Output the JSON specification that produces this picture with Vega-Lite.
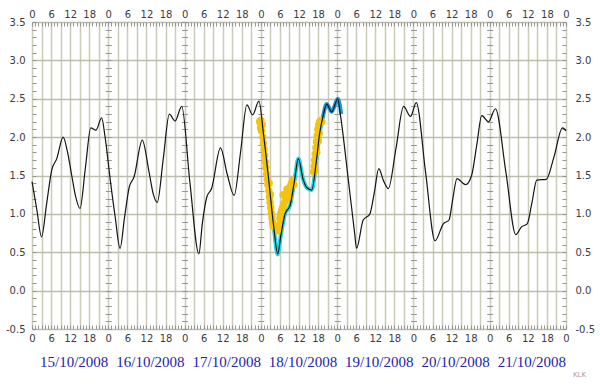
{
  "$schema": "https://vega.github.io/schema/vega-lite/v6.json",
  "width": 534,
  "height": 307,
  "autosize": {"type": "none"},
  "padding": {"left": 32, "top": 22, "right": 34, "bottom": 59},
  "background": "white",
  "title": {"text": "KLK", "orient": "bottom", "anchor": "end", "frame": "group", "fontSize": 7, "font": "DejaVu Sans", "fontWeight": "normal", "color": "#a0a0a0", "dx": 20, "offset": 2},
  "config": {
    "view": {"stroke": "#8c8c8c", "strokeWidth": 1},
    "axis": {"labelFont": "DejaVu Sans", "labelFontSize": 10, "labelColor": "#3c3c3c", "labelFlush": false, "labelOverlap": false, "labelBound": false, "domain": false, "grid": false, "tickColor": "#959595", "tickWidth": 1}
  },
  "datasets": {
    "model": [
      {"h": 0, "v": 1.42}, {"h": 1.5, "v": 1.06}, {"h": 3.0, "v": 0.70}, {"h": 4.6, "v": 1.13}, {"h": 6.2, "v": 1.57}, {"h": 7.8, "v": 1.72}, {"h": 9.8, "v": 2.00}, {"h": 11.2, "v": 1.8}, {"h": 12.5, "v": 1.5}, {"h": 13.6, "v": 1.25}, {"h": 15.1, "v": 1.07}, {"h": 16.8, "v": 1.6}, {"h": 18.5, "v": 2.12}, {"h": 20.1, "v": 2.09}, {"h": 21.9, "v": 2.25}, {"h": 23.0, "v": 2.0}, {"h": 24.6, "v": 1.45}, {"h": 26.2, "v": 0.95}, {"h": 27.7, "v": 0.55}, {"h": 29.1, "v": 0.95}, {"h": 30.6, "v": 1.35}, {"h": 32.1, "v": 1.48}, {"h": 34.7, "v": 1.96}, {"h": 36.8, "v": 1.55}, {"h": 38.2, "v": 1.25}, {"h": 39.4, "v": 1.15}, {"h": 41.3, "v": 1.72}, {"h": 43.2, "v": 2.30}, {"h": 45.0, "v": 2.21}, {"h": 47.1, "v": 2.40}, {"h": 49.7, "v": 1.4}, {"h": 52.5, "v": 0.48}, {"h": 53.6, "v": 0.88}, {"h": 55.0, "v": 1.22}, {"h": 56.5, "v": 1.33}, {"h": 59.3, "v": 1.86}, {"h": 61.4, "v": 1.52}, {"h": 63.6, "v": 1.24}, {"h": 65.6, "v": 1.8}, {"h": 67.6, "v": 2.42}, {"h": 69.4, "v": 2.29}, {"h": 71.4, "v": 2.47}, {"h": 72.8, "v": 2.05}, {"h": 74.4, "v": 1.47}, {"h": 76.0, "v": 0.85}, {"h": 77.3, "v": 0.48}, {"h": 78.3, "v": 0.72}, {"h": 79.6, "v": 1.0}, {"h": 81.2, "v": 1.11}, {"h": 82.5, "v": 1.41}, {"h": 83.8, "v": 1.72}, {"h": 85.3, "v": 1.45}, {"h": 86.5, "v": 1.34}, {"h": 88.0, "v": 1.31}, {"h": 89.5, "v": 1.70}, {"h": 90.5, "v": 2.05}, {"h": 91.6, "v": 2.28}, {"h": 92.7, "v": 2.43}, {"h": 94.3, "v": 2.33}, {"h": 96.2, "v": 2.50}, {"h": 97.0, "v": 2.3}, {"h": 99.5, "v": 1.45}, {"h": 101.5, "v": 0.75}, {"h": 102.1, "v": 0.55}, {"h": 104.2, "v": 0.92}, {"h": 106.3, "v": 1.0}, {"h": 107.7, "v": 1.28}, {"h": 109.1, "v": 1.59}, {"h": 110.6, "v": 1.43}, {"h": 112.1, "v": 1.33}, {"h": 114.5, "v": 1.85}, {"h": 116.9, "v": 2.40}, {"h": 119.1, "v": 2.27}, {"h": 120.9, "v": 2.45}, {"h": 123.8, "v": 1.55}, {"h": 126.8, "v": 0.65}, {"h": 129.4, "v": 0.87}, {"h": 131.2, "v": 0.92}, {"h": 132.4, "v": 1.2}, {"h": 133.7, "v": 1.46}, {"h": 136.4, "v": 1.38}, {"h": 138.3, "v": 1.5}, {"h": 139.9, "v": 1.89}, {"h": 141.5, "v": 2.28}, {"h": 143.6, "v": 2.2}, {"h": 145.8, "v": 2.37}, {"h": 149.1, "v": 1.54}, {"h": 152.2, "v": 0.73}, {"h": 154.0, "v": 0.83}, {"h": 155.8, "v": 0.87}, {"h": 157.3, "v": 1.15}, {"h": 158.8, "v": 1.44}, {"h": 161.8, "v": 1.45}, {"h": 164.2, "v": 1.74}, {"h": 166.9, "v": 2.12}, {"h": 168, "v": 2.08}
    ],
    "cyan": [
      {"h": 75.0, "v": 1.25}, {"h": 76.0, "v": 0.85}, {"h": 77.3, "v": 0.47}, {"h": 78.3, "v": 0.72}, {"h": 79.6, "v": 1.0}, {"h": 81.2, "v": 1.11}, {"h": 82.5, "v": 1.41}, {"h": 83.8, "v": 1.72}, {"h": 85.3, "v": 1.45}, {"h": 86.5, "v": 1.34}, {"h": 88.0, "v": 1.31}, {"h": 89.5, "v": 1.70}, {"h": 90.5, "v": 2.05}, {"h": 91.2, "v": 2.2}
    ],
    "blue": [
      {"h": 91.0, "v": 2.16}, {"h": 91.6, "v": 2.28}, {"h": 92.7, "v": 2.43}, {"h": 94.3, "v": 2.33}, {"h": 96.2, "v": 2.50}, {"h": 97.3, "v": 2.3}
    ],
    "obs": [
      {"h": 71.6, "v": 2.2}, {"h": 72.0, "v": 2.22}, {"h": 72.4, "v": 2.16}, {"h": 72.2, "v": 2.08}, {"h": 71.9, "v": 2.12},
      {"h": 72.6, "v": 2.0}, {"h": 72.8, "v": 1.92}, {"h": 73.0, "v": 1.84}, {"h": 73.2, "v": 1.76}, {"h": 73.4, "v": 1.68}, {"h": 73.6, "v": 1.6}, {"h": 73.8, "v": 1.52}, {"h": 74.0, "v": 1.45}, {"h": 74.2, "v": 1.38}, {"h": 74.5, "v": 1.3}, {"h": 74.7, "v": 1.22}, {"h": 74.9, "v": 1.15}, {"h": 75.1, "v": 1.08}, {"h": 75.3, "v": 1.01}, {"h": 75.5, "v": 0.95}, {"h": 75.7, "v": 0.89}, {"h": 75.9, "v": 0.84}, {"h": 74.6, "v": 1.4}, {"h": 75.0, "v": 1.25},
      {"h": 77.6, "v": 0.78}, {"h": 77.8, "v": 0.86}, {"h": 78.0, "v": 0.94}, {"h": 78.2, "v": 1.0}, {"h": 78.5, "v": 1.04}, {"h": 78.8, "v": 1.08}, {"h": 79.2, "v": 1.12}, {"h": 79.6, "v": 1.16}, {"h": 80.0, "v": 1.2}, {"h": 80.4, "v": 1.25}, {"h": 80.8, "v": 1.3}, {"h": 81.2, "v": 1.35}, {"h": 81.6, "v": 1.4}, {"h": 82.0, "v": 1.44}, {"h": 82.4, "v": 1.38}, {"h": 79.0, "v": 1.25}, {"h": 80.2, "v": 1.32}, {"h": 81.0, "v": 1.22},
      {"h": 88.6, "v": 1.55}, {"h": 88.8, "v": 1.62}, {"h": 88.9, "v": 1.7}, {"h": 89.1, "v": 1.78}, {"h": 89.3, "v": 1.86}, {"h": 89.5, "v": 1.94}, {"h": 89.7, "v": 2.02}, {"h": 89.9, "v": 2.1}, {"h": 90.2, "v": 2.16}, {"h": 90.5, "v": 2.2}, {"h": 90.9, "v": 2.22}, {"h": 91.2, "v": 2.2}, {"h": 89.0, "v": 1.56}, {"h": 89.6, "v": 1.8}, {"h": 90.1, "v": 1.95}, {"h": 90.4, "v": 2.05}
    ]
  },
  "layer": [
    {
      "data": {"name": "cyan"},
      "mark": {"type": "line", "color": "#27d3e3", "strokeWidth": 4, "interpolate": "monotone"},
      "encoding": {
        "x": {"field": "h", "type": "quantitative", "scale": {"domain": [0, 168], "nice": false, "zero": false},
          "axis": {"orient": "top", "title": null, "values": [0,6,12,18,24,30,36,42,48,54,60,66,72,78,84,90,96,102,108,114,120,126,132,138,144,150,156,162,168], "labelExpr": "'' + (datum.value % 24)", "ticks": false, "labelPadding": 3}},
        "y": {"field": "v", "type": "quantitative", "scale": {"domain": [-0.5, 3.5], "nice": false, "zero": false},
          "axis": {"orient": "right", "title": null, "values": [-0.5,0,0.5,1,1.5,2,2.5,3,3.5], "labelExpr": "(datum.value < 0 ? '-' : '') + format(abs(datum.value), '.1f')", "ticks": false, "labelPadding": 9}}
      }
    },
    {
      "data": {"name": "blue"},
      "mark": {"type": "line", "color": "#2196d3", "strokeWidth": 4, "interpolate": "monotone"},
      "encoding": {
        "x": {"field": "h", "type": "quantitative", "scale": {"domain": [0, 168], "nice": false, "zero": false},
          "axis": {"orient": "top", "title": null, "labels": false, "tickSize": 4, "offset": -4, "values": [0,1,2,3,4,5,6,7,8,9,10,11,12,13,14,15,16,17,18,19,20,21,22,23,24,25,26,27,28,29,30,31,32,33,34,35,36,37,38,39,40,41,42,43,44,45,46,47,48,49,50,51,52,53,54,55,56,57,58,59,60,61,62,63,64,65,66,67,68,69,70,71,72,73,74,75,76,77,78,79,80,81,82,83,84,85,86,87,88,89,90,91,92,93,94,95,96,97,98,99,100,101,102,103,104,105,106,107,108,109,110,111,112,113,114,115,116,117,118,119,120,121,122,123,124,125,126,127,128,129,130,131,132,133,134,135,136,137,138,139,140,141,142,143,144,145,146,147,148,149,150,151,152,153,154,155,156,157,158,159,160,161,162,163,164,165,166,167,168]}},
        "y": {"field": "v", "type": "quantitative", "scale": {"domain": [-0.5, 3.5], "nice": false, "zero": false},
          "axis": {"orient": "right", "title": null, "labels": false, "tickSize": 4, "offset": -4, "values": [-0.5,-0.4,-0.3,-0.2,-0.1,0,0.1,0.2,0.3,0.4,0.5,0.6,0.7,0.8,0.9,1,1.1,1.2,1.3,1.4,1.5,1.6,1.7,1.8,1.9,2,2.1,2.2,2.3,2.4,2.5,2.6,2.7,2.8,2.9,3,3.1,3.2,3.3,3.4,3.5]}}
      }
    },
    {
      "data": {"name": "obs"},
      "mark": {"type": "circle", "color": "#f2c30f", "size": 55, "opacity": 1},
      "encoding": {
        "x": {"field": "h", "type": "quantitative", "scale": {"domain": [0, 168], "nice": false, "zero": false},
          "axis": {"orient": "bottom", "title": null, "labels": false, "tickSize": 4, "offset": -4, "values": [0,1,2,3,4,5,6,7,8,9,10,11,12,13,14,15,16,17,18,19,20,21,22,23,24,25,26,27,28,29,30,31,32,33,34,35,36,37,38,39,40,41,42,43,44,45,46,47,48,49,50,51,52,53,54,55,56,57,58,59,60,61,62,63,64,65,66,67,68,69,70,71,72,73,74,75,76,77,78,79,80,81,82,83,84,85,86,87,88,89,90,91,92,93,94,95,96,97,98,99,100,101,102,103,104,105,106,107,108,109,110,111,112,113,114,115,116,117,118,119,120,121,122,123,124,125,126,127,128,129,130,131,132,133,134,135,136,137,138,139,140,141,142,143,144,145,146,147,148,149,150,151,152,153,154,155,156,157,158,159,160,161,162,163,164,165,166,167,168]}},
        "y": {"field": "v", "type": "quantitative", "scale": {"domain": [-0.5, 3.5], "nice": false, "zero": false},
          "axis": {"orient": "left", "title": null, "labels": false, "tickSize": 4, "offset": -4, "values": [-0.5,-0.4,-0.3,-0.2,-0.1,0,0.1,0.2,0.3,0.4,0.5,0.6,0.7,0.8,0.9,1,1.1,1.2,1.3,1.4,1.5,1.6,1.7,1.8,1.9,2,2.1,2.2,2.3,2.4,2.5,2.6,2.7,2.8,2.9,3,3.1,3.2,3.3,3.4,3.5]}}
      }
    },
    {
      "data": {"name": "model"},
      "mark": {"type": "line", "color": "#151515", "strokeWidth": 1.2, "interpolate": "monotone"},
      "encoding": {
        "x": {"field": "h", "type": "quantitative", "scale": {"domain": [0, 168], "nice": false, "zero": false},
          "axis": {"orient": "bottom", "title": null, "grid": true, "gridColor": "#cbcbb9", "gridWidth": 1.5, "ticks": false, "labelPadding": 4, "values": [0,3,6,9,12,15,18,21,24,27,30,33,36,39,42,45,48,51,54,57,60,63,66,69,72,75,78,81,84,87,90,93,96,99,102,105,108,111,114,117,120,123,126,129,132,135,138,141,144,147,150,153,156,159,162,165,168], "labelExpr": "datum.value % 6 == 0 ? '' + (datum.value % 24) : ''"}},
        "y": {"field": "v", "type": "quantitative", "scale": {"domain": [-0.5, 3.5], "nice": false, "zero": false},
          "axis": {"orient": "left", "title": null, "grid": true, "gridColor": "#bdbdab", "gridWidth": 1.5, "ticks": false, "labelPadding": 7, "values": [-0.5,0,0.5,1,1.5,2,2.5,3,3.5], "labelExpr": "(datum.value < 0 ? '-' : '') + format(abs(datum.value), '.1f')"}}
      }
    },
    {
      "data": {"name": "model"},
      "mark": {"type": "point", "opacity": 0},
      "encoding": {
        "x": {"field": "h", "type": "quantitative", "scale": {"domain": [0, 168], "nice": false, "zero": false},
          "axis": {"orient": "bottom", "title": null, "ticks": false, "values": [12,36,60,84,108,132,156], "labelExpr": "['15/10/2008','16/10/2008','17/10/2008','18/10/2008','19/10/2008','20/10/2008','21/10/2008'][floor(datum.value/24)]", "labelFont": "Liberation Serif", "labelFontSize": 15, "labelColor": "#2424a8", "labelPadding": 25, "labelOffset": 3.5}},
        "y": {"field": "v", "type": "quantitative", "scale": {"domain": [-0.5, 3.5], "nice": false, "zero": false},
          "axis": {"orient": "left", "title": null, "labels": false, "tickSize": 6, "offset": -79.29, "values": [-0.5,-0.4,-0.3,-0.2,-0.1,0,0.1,0.2,0.3,0.4,0.5,0.6,0.7,0.8,0.9,1,1.1,1.2,1.3,1.4,1.5,1.6,1.7,1.8,1.9,2,2.1,2.2,2.3,2.4,2.5,2.6,2.7,2.8,2.9,3,3.1,3.2,3.3,3.4,3.5]}}
      }
    },
    {
      "data": {"name": "model"},
      "mark": {"type": "point", "opacity": 0},
      "encoding": {
        "x": {"field": "h", "type": "quantitative", "scale": {"domain": [0, 168], "nice": false, "zero": false}, "axis": null},
        "y": {"field": "v", "type": "quantitative", "scale": {"domain": [-0.5, 3.5], "nice": false, "zero": false},
          "axis": {"orient": "left", "title": null, "labels": false, "tickSize": 6, "offset": -155.57, "values": [-0.5,-0.4,-0.3,-0.2,-0.1,0,0.1,0.2,0.3,0.4,0.5,0.6,0.7,0.8,0.9,1,1.1,1.2,1.3,1.4,1.5,1.6,1.7,1.8,1.9,2,2.1,2.2,2.3,2.4,2.5,2.6,2.7,2.8,2.9,3,3.1,3.2,3.3,3.4,3.5]}}
      }
    },
    {
      "data": {"name": "model"},
      "mark": {"type": "point", "opacity": 0},
      "encoding": {
        "x": {"field": "h", "type": "quantitative", "scale": {"domain": [0, 168], "nice": false, "zero": false}, "axis": null},
        "y": {"field": "v", "type": "quantitative", "scale": {"domain": [-0.5, 3.5], "nice": false, "zero": false},
          "axis": {"orient": "left", "title": null, "labels": false, "tickSize": 6, "offset": -231.86, "values": [-0.5,-0.4,-0.3,-0.2,-0.1,0,0.1,0.2,0.3,0.4,0.5,0.6,0.7,0.8,0.9,1,1.1,1.2,1.3,1.4,1.5,1.6,1.7,1.8,1.9,2,2.1,2.2,2.3,2.4,2.5,2.6,2.7,2.8,2.9,3,3.1,3.2,3.3,3.4,3.5]}}
      }
    },
    {
      "data": {"name": "model"},
      "mark": {"type": "point", "opacity": 0},
      "encoding": {
        "x": {"field": "h", "type": "quantitative", "scale": {"domain": [0, 168], "nice": false, "zero": false}, "axis": null},
        "y": {"field": "v", "type": "quantitative", "scale": {"domain": [-0.5, 3.5], "nice": false, "zero": false},
          "axis": {"orient": "left", "title": null, "labels": false, "tickSize": 6, "offset": -308.14, "values": [-0.5,-0.4,-0.3,-0.2,-0.1,0,0.1,0.2,0.3,0.4,0.5,0.6,0.7,0.8,0.9,1,1.1,1.2,1.3,1.4,1.5,1.6,1.7,1.8,1.9,2,2.1,2.2,2.3,2.4,2.5,2.6,2.7,2.8,2.9,3,3.1,3.2,3.3,3.4,3.5]}}
      }
    },
    {
      "data": {"name": "model"},
      "mark": {"type": "point", "opacity": 0},
      "encoding": {
        "x": {"field": "h", "type": "quantitative", "scale": {"domain": [0, 168], "nice": false, "zero": false}, "axis": null},
        "y": {"field": "v", "type": "quantitative", "scale": {"domain": [-0.5, 3.5], "nice": false, "zero": false},
          "axis": {"orient": "left", "title": null, "labels": false, "tickSize": 6, "offset": -384.43, "values": [-0.5,-0.4,-0.3,-0.2,-0.1,0,0.1,0.2,0.3,0.4,0.5,0.6,0.7,0.8,0.9,1,1.1,1.2,1.3,1.4,1.5,1.6,1.7,1.8,1.9,2,2.1,2.2,2.3,2.4,2.5,2.6,2.7,2.8,2.9,3,3.1,3.2,3.3,3.4,3.5]}}
      }
    },
    {
      "data": {"name": "model"},
      "mark": {"type": "point", "opacity": 0},
      "encoding": {
        "x": {"field": "h", "type": "quantitative", "scale": {"domain": [0, 168], "nice": false, "zero": false}, "axis": null},
        "y": {"field": "v", "type": "quantitative", "scale": {"domain": [-0.5, 3.5], "nice": false, "zero": false},
          "axis": {"orient": "left", "title": null, "labels": false, "tickSize": 6, "offset": -460.71, "values": [-0.5,-0.4,-0.3,-0.2,-0.1,0,0.1,0.2,0.3,0.4,0.5,0.6,0.7,0.8,0.9,1,1.1,1.2,1.3,1.4,1.5,1.6,1.7,1.8,1.9,2,2.1,2.2,2.3,2.4,2.5,2.6,2.7,2.8,2.9,3,3.1,3.2,3.3,3.4,3.5]}}
      }
    }
  ],
  "resolve": {"axis": {"x": "independent", "y": "independent"}}
}
